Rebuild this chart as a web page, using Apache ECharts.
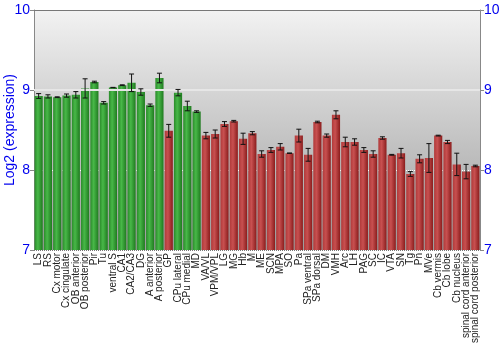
<!DOCTYPE html>
<html><head><meta charset="utf-8">
<script src="https://cdn.jsdelivr.net/npm/echarts@6/dist/echarts.min.js"></script>
<style>html,body{margin:0;padding:0;background:#fff}#c{width:500px;height:350px}</style>
</head><body><div id="c"></div>
<script>
var categories = ["LS","RS","Cx motor","Cx cingulate","OB anterior","OB posterior","Pir","Tu","ventral S","CA1","CA2/CA3","DG","A anterior","A posterior","GP","CPu lateral","CPu medial","MD","VA/VL","VPM/VPL","LG","MG","Hb","M","ME","SCN","MPA","SO","Pa","SPa ventral","SPa dorsal","DM","VMH","Arc","LH","PAG","SC","IC","VTA","SN","Tg","Pn","MVe","Cb vermis","Cb lobe","Cb nucleus","spinal cord anterior","spinal cord posterior"];
var values = [8.925,8.92,8.91,8.93,8.94,9.02,9.10,8.84,9.03,9.06,9.09,8.975,8.81,9.15,8.49,8.967,8.80,8.73,8.43,8.45,8.575,8.61,8.39,8.46,8.20,8.25,8.29,8.21,8.43,8.19,8.60,8.43,8.69,8.35,8.35,8.25,8.20,8.40,8.19,8.21,7.95,8.14,8.15,8.43,8.35,8.07,7.98,8.05];
var errors = [0.03,0.02,0.005,0.02,0.04,0.12,0.01,0.015,0.003,0.005,0.11,0.04,0.015,0.06,0.08,0.04,0.06,0.01,0.04,0.05,0.03,0.01,0.07,0.02,0.04,0.03,0.04,0.003,0.08,0.08,0.01,0.02,0.05,0.06,0.04,0.03,0.04,0.015,0.005,0.06,0.03,0.05,0.18,0.005,0.02,0.14,0.09,0.01];
var groups = ["g","g","g","g","g","g","g","g","g","g","g","g","g","g","r","g","g","g","r","r","r","r","r","r","r","r","r","r","r","r","r","r","r","r","r","r","r","r","r","r","r","r","r","r","r","r","r","r"];
var yTicks = [7,8,9,10];

function hgrad(c1,c2,c3){return {type:'linear',x:0,y:0,x2:1,y2:0,colorStops:[{offset:0,color:c1},{offset:0.4,color:c2},{offset:1,color:c3}]};}
var green = hgrad('#2a8a2a','#48b848','#1f7a1f');
var red = hgrad('#b03a3a','#c85050','#8a1c1c');

var chart = echarts.init(document.getElementById('c'));
chart.setOption({
  animation:false,
  grid:{left:34,right:20,top:10,bottom:100,show:true,borderWidth:0,containLabel:false,outerBoundsMode:'none',
    backgroundColor:{type:'linear',x:0,y:0,x2:0,y2:1,colorStops:[{offset:0,color:'#f2f2f2'},{offset:1,color:'#9c9c9c'}]}},
  xAxis:{type:'category',data:categories,
    axisLine:{show:false},axisTick:{show:false},
    axisLabel:{interval:0,rotate:90,fontSize:10,color:'#222',fontFamily:'Liberation Sans, Arial, sans-serif',margin:3}},
  yAxis:[{type:'value',min:7,max:10,interval:1,position:'left',
    name:'Log2 (expression)',nameLocation:'middle',nameGap:17,nameMoveOverlap:false,
    nameTextStyle:{color:'#0000ee',fontSize:14,fontFamily:'Liberation Sans, Arial, sans-serif'},
    axisLine:{show:true,lineStyle:{color:'#888',width:1}},
    axisTick:{show:true,length:4,lineStyle:{color:'#888'}},
    axisLabel:{color:'#0000ee',fontSize:14,margin:4,fontFamily:'Liberation Sans, Arial, sans-serif'},
    splitLine:{show:true,lineStyle:{color:['#777','#ffffff','#e8e8e8','#777'],type:'dotted',width:1}}},
   {type:'value',min:7,max:10,interval:1,position:'right',
    axisLine:{show:true,lineStyle:{color:'#888',width:1}},
    axisTick:{show:true,length:4,lineStyle:{color:'#888'}},
    axisLabel:{color:'#0000ee',fontSize:14,margin:4,fontFamily:'Liberation Sans, Arial, sans-serif'},
    splitLine:{show:false}}],
  series:[
    {type:'bar',data:values.map(function(v,i){return {value:v,itemStyle:{color:groups[i]==='g'?green:red}};}),
     barCategoryGap:'12%',
     markLine:{silent:true,symbol:'none',label:{show:false},lineStyle:{color:'#e6e6e6',type:'solid',width:2},data:[{yAxis:9},{yAxis:10,lineStyle:{color:'#777',width:1}}]}},
    {type:'custom',data:values.map(function(v,i){return [i,v,errors[i]];}),z:5,
     renderItem:function(params,api){
       var i=api.value(0),v=api.value(1),e=api.value(2);
       var hi=api.coord([i,v+e]),lo=api.coord([i,v-e]);
       var hw=2.5;
       var st={stroke:'#111',lineWidth:1};
       return {type:'group',children:[
         {type:'line',shape:{x1:hi[0],y1:hi[1],x2:lo[0],y2:lo[1]},style:st},
         {type:'line',shape:{x1:hi[0]-hw,y1:hi[1],x2:hi[0]+hw,y2:hi[1]},style:st},
         {type:'line',shape:{x1:lo[0]-hw,y1:lo[1],x2:lo[0]+hw,y2:lo[1]},style:st}
       ]};
     }}
  ]
});
</script></body></html>
